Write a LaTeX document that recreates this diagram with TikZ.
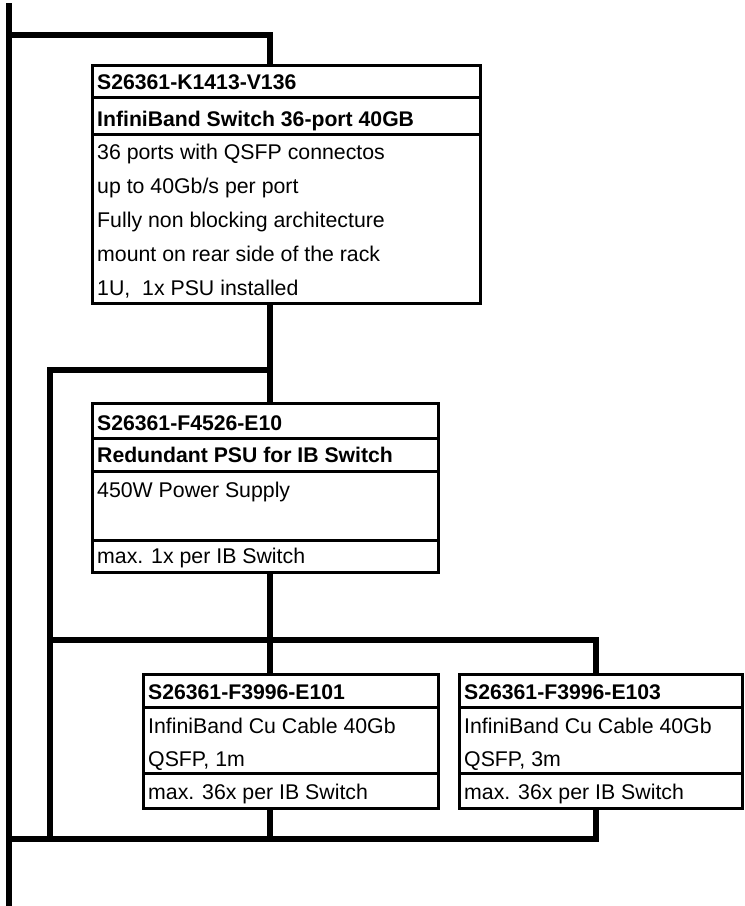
\documentclass[tikz,border=0pt]{standalone}
\usepackage{fontspec}
\setmainfont{Liberation Sans}
\begin{document}
\begin{tikzpicture}[x=1pt,y=-1pt,
  wire/.style={line width=5.5pt},
  box/.style={draw, line width=3pt, inner sep=0pt, outer sep=0pt, anchor=north west},
  sepline/.style={line width=3pt},
  txt/.style={anchor=base west, inner sep=0pt, font=\fontsize{21.3}{24}\selectfont},
  btxt/.style={anchor=base west, inner sep=0pt, font=\fontsize{21.2}{24}\selectfont\bfseries}]
\useasboundingbox (0,0) rectangle (745,906);

% boxes
\node[box, minimum width=388pt, minimum height=238pt] (b1) at (92,65) {};
\node[box, minimum width=346pt, minimum height=169pt] (b2) at (92,403) {};
\node[box, minimum width=295pt, minimum height=134pt] (b3) at (143,674) {};
\node[box, minimum width=283pt, minimum height=134pt] (b4) at (459,674) {};

% separators
\foreach \s in {32,69}
  \draw[sepline] ([yshift=-\s pt]b1.north west) -- ([yshift=-\s pt]b1.north east);
\foreach \s in {35,68,137}
  \draw[sepline] ([yshift=-\s pt]b2.north west) -- ([yshift=-\s pt]b2.north east);
\foreach \s in {33,99}
  \draw[sepline] ([yshift=-\s pt]b3.north west) -- ([yshift=-\s pt]b3.north east);
\foreach \s in {33,99}
  \draw[sepline] ([yshift=-\s pt]b4.north west) -- ([yshift=-\s pt]b4.north east);

% texts box 1
\node[btxt] (b1a) at (97,89) {S26361-K1413-V136};
\node[btxt] (b1b) at (97,126) {InfiniBand Switch 36-port 40GB};
\node[txt] (b1c) at (97,159.5) {36 ports with QSFP connectos};
\node[txt] (b1d) at (97,193.4) {up to 40Gb/s per port};
\node[txt] (b1e) at (97,227.3) {Fully non blocking architecture};
\node[txt] (b1f) at (97,261.2) {mount on rear side of the rack};
\node[txt] (b1g) at (97,295) {1U,\ \ 1x PSU installed};

% texts box 2
\node[btxt] (b2a) at (97,430) {S26361-F4526-E10};
\node[btxt] (b2b) at (97,462.5) {Redundant PSU for IB Switch};
\node[txt] (b2c) at (97,497) {450W Power Supply};
\node[txt] (b2d) at (97,563.3) {max. 1x per IB Switch};

% texts box 3
\node[btxt] (b3a) at (148,699.3) {S26361-F3996-E101};
\node[txt] (b3b) at (148,733.3) {InfiniBand Cu Cable 40Gb};
\node[txt] (b3c) at (148,766) {QSFP, 1m};
\node[txt] (b3d) at (148,799) {max. 36x per IB Switch};

% texts box 4
\node[btxt] (b4a) at (464,699.3) {S26361-F3996-E103};
\node[txt] (b4b) at (464,733.3) {InfiniBand Cu Cable 40Gb};
\node[txt] (b4c) at (464,766) {QSFP, 3m};
\node[txt] (b4d) at (464,799) {max. 36x per IB Switch};

% wires
\coordinate (top) at (9,3);
\coordinate (bot) at (9,906);
\coordinate (j1) at (9,35);
\coordinate (k1) at (270,370);
\coordinate (k2) at (50,839);
\coordinate (k3) at (50,640);
\coordinate (k4) at (9,839);

\draw[wire] (top) -- (bot);
\draw[wire] (j1) -| ([xshift=178pt]b1.north west);
\draw[wire] ([xshift=178pt]b1.south west) -- ([xshift=178pt]b2.north west);
\draw[wire] (k1) -| (k2);
\draw[wire] ([xshift=178pt]b2.south west) -- ([xshift=127pt]b3.north west);
\draw[wire] (k3) -| ([xshift=137pt]b4.north west);
\draw[wire] (k4) -| ([xshift=137pt]b4.south west);
\draw[wire] ([xshift=127pt]b3.south west) -- ([xshift=127pt]b3.south west |- k4);
\end{tikzpicture}
\end{document}
